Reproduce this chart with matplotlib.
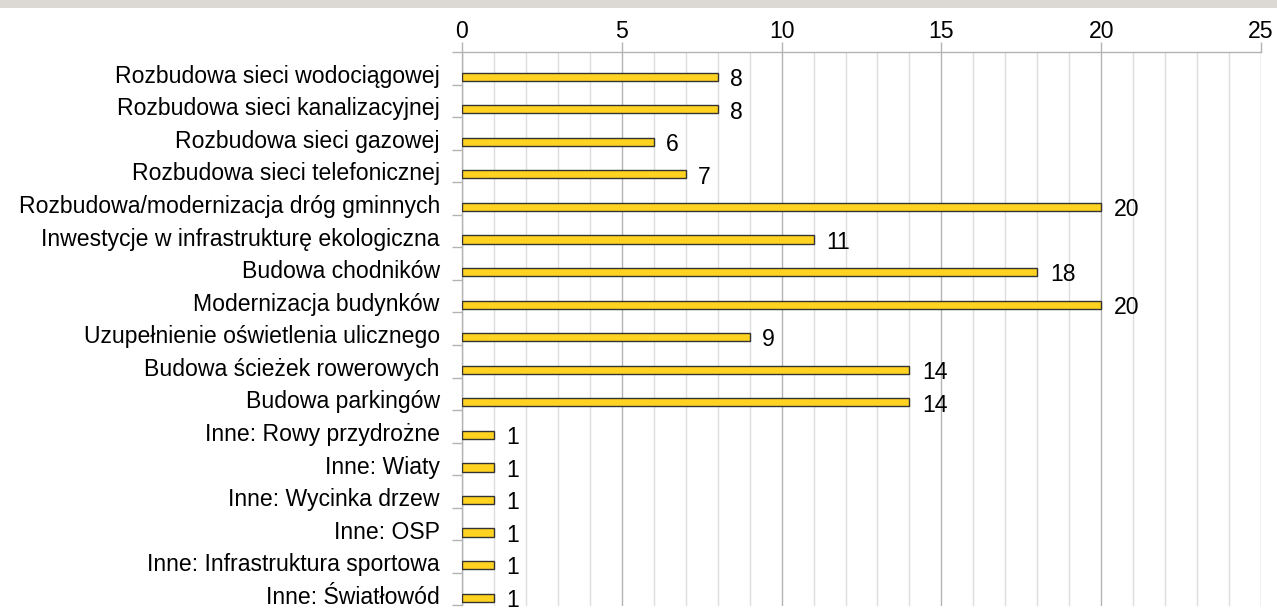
import matplotlib.pyplot as plt
import numpy as np
from matplotlib.patches import Rectangle
from matplotlib.ticker import MultipleLocator, FixedLocator

plt.rcParams["font.family"] = ["Liberation Sans", "DejaVu Sans"]

categories = [
    "Rozbudowa sieci wodociągowej",
    "Rozbudowa sieci kanalizacyjnej",
    "Rozbudowa sieci gazowej",
    "Rozbudowa sieci telefonicznej",
    "Rozbudowa/modernizacja dróg gminnych",
    "Inwestycje w infrastrukturę ekologiczna",
    "Budowa chodników",
    "Modernizacja budynków",
    "Uzupełnienie oświetlenia ulicznego",
    "Budowa ścieżek rowerowych",
    "Budowa parkingów",
    "Inne: Rowy przydrożne",
    "Inne: Wiaty",
    "Inne: Wycinka drzew",
    "Inne: OSP",
    "Inne: Infrastruktura sportowa",
    "Inne: Światłowód",
]
values = [8, 8, 6, 7, 20, 11, 18, 20, 9, 14, 14, 1, 1, 1, 1, 1, 1]
x_ticks = [0, 5, 10, 15, 20, 25]

FS = 16.6
W, H = 1277, 608
fig = plt.figure(figsize=(W / 100, H / 100), dpi=100)
fig.patches.append(Rectangle((0, 1 - 7.5 / H), 1, 7.5 / H, transform=fig.transFigure,
                             facecolor="#dcd9d5", edgecolor="none", zorder=0))

left, right, top, bottom = 462, 1261, 52, 605.5
ax = fig.add_axes([left / W, 1 - bottom / H, (right - left) / W, (bottom - top) / H])

n = len(categories)
pos = np.arange(n)
bar_y = pos + 0.26
ax.barh(bar_y, values, height=0.25, color="#ffd320", edgecolor="#333333", linewidth=1.0, zorder=3)

for y, v in zip(bar_y, values):
    ax.annotate(str(v), (v, y), xytext=(9, -2), textcoords="offset points",
                ha="left", va="center", fontsize=FS, color="#000000")

ax.set_xlim(0, 25)
ax.set_ylim(n - 0.5, -0.5)

ax.xaxis.tick_top()
ax.set_xticks(x_ticks)
ax.xaxis.set_minor_locator(MultipleLocator(1))
ax.tick_params(axis="x", which="major", length=7, width=1, color="#b3b3b3", pad=-0.5, labelsize=FS)
ax.tick_params(axis="x", which="minor", length=0)
ax.grid(axis="x", which="major", color="#b3b3b3", linewidth=1.0, zorder=1)
ax.grid(axis="x", which="minor", color="#dddddd", linewidth=1.0, zorder=1)

ax.yaxis.set_major_locator(FixedLocator(np.arange(-0.5, n, 1.0)))
ax.yaxis.set_major_formatter(plt.NullFormatter())
ax.yaxis.set_minor_locator(FixedLocator(pos + 0.17))
ax.set_yticklabels(categories, minor=True)
ax.tick_params(axis="y", which="major", length=7, width=1, color="#b3b3b3")
ax.tick_params(axis="y", which="minor", length=0, pad=16, labelsize=FS)

for side in ("right", "bottom"):
    ax.spines[side].set_visible(False)
for side in ("top", "left"):
    ax.spines[side].set_color("#b3b3b3")
    ax.spines[side].set_linewidth(1.0)

fig.savefig("out.png", dpi=100)
